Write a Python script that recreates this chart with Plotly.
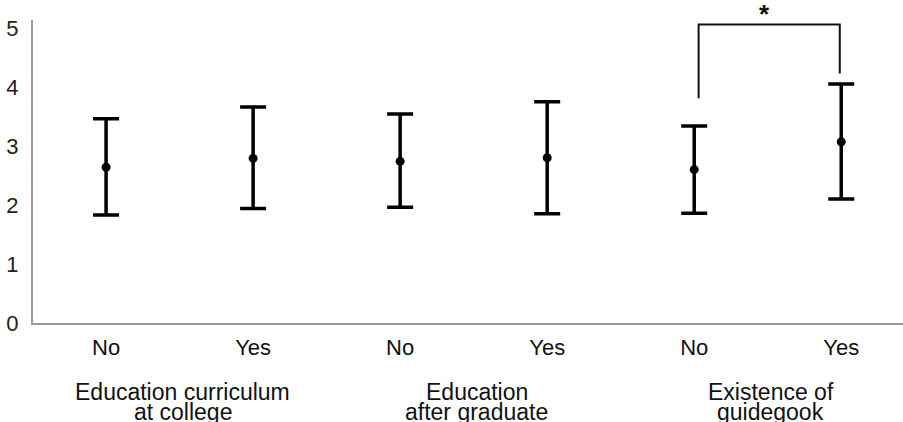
import plotly.graph_objects as go

# Mean scores with upper / lower interval bounds for each subgroup
groups = ["Education curriculum\nat college", "Education\nafter graduate", "Existence of\nguidegook"]
answers = ["No", "Yes", "No", "Yes", "No", "Yes"]
means = [2.64, 2.79, 2.74, 2.80, 2.60, 3.07]
upper = [3.46, 3.66, 3.54, 3.75, 3.34, 4.05]
lower = [1.83, 1.94, 1.96, 1.85, 1.86, 2.10]
y_ticks = [0, 1, 2, 3, 4, 5]
sig_label = "*"

xpos = list(range(len(answers)))
err_plus = [u - m for u, m in zip(upper, means)]
err_minus = [m - l for m, l in zip(means, lower)]

fig = go.Figure()
fig.add_trace(go.Scatter(
    x=xpos, y=means, mode="markers",
    marker=dict(color="black", size=9),
    error_y=dict(type="data", symmetric=False, array=err_plus, arrayminus=err_minus,
                 color="black", thickness=3.5, width=13),
    showlegend=False, cliponaxis=False,
))

# significance bracket between the two "Existence of guidegook" subgroups
fig.add_shape(type="path", xref="x", yref="y",
              path="M 4.03 3.81 L 4.03 5.06 L 4.99 5.06 L 4.99 4.23",
              line=dict(color="#111", width=2))
fig.add_annotation(x=4.48, y=1.0, xref="x", yref="paper", text="<b>" + sig_label + "</b>",
                   showarrow=False, yanchor="middle", yshift=6,
                   font=dict(family="Liberation Sans", size=26, color="#111"))

label_font = dict(family="Liberation Sans", size=22, color="#111")
caption_font = dict(family="Liberation Sans", size=23, color="#111")

# group captions, one annotation per line for tight line spacing
for gi, g in enumerate(groups):
    for li, line in enumerate(g.split("\n")):
        fig.add_annotation(x=2 * gi + 0.52, y=-0.228 - 0.066 * li, xref="x", yref="paper",
                           text=line, showarrow=False, yanchor="middle", font=caption_font)

fig.update_layout(
    width=903, height=422,
    margin=dict(l=33, r=0, t=20, b=99),
    plot_bgcolor="white", paper_bgcolor="white",
    xaxis=dict(range=[-0.497, 5.42], tickvals=xpos, ticktext=answers,
               showgrid=False, zeroline=False, showline=True, linecolor="#9a9a9a",
               linewidth=2, ticks="", tickfont=label_font, ticklabelstandoff=4),
    yaxis=dict(range=[0, 5.135], tickvals=y_ticks, showgrid=False, zeroline=False,
               showline=True, linecolor="#9a9a9a", linewidth=2, ticks="",
               tickfont=dict(family="Liberation Sans", size=22, color="#222"),
               ticklabelstandoff=8),
)

fig.write_html("out.html")
